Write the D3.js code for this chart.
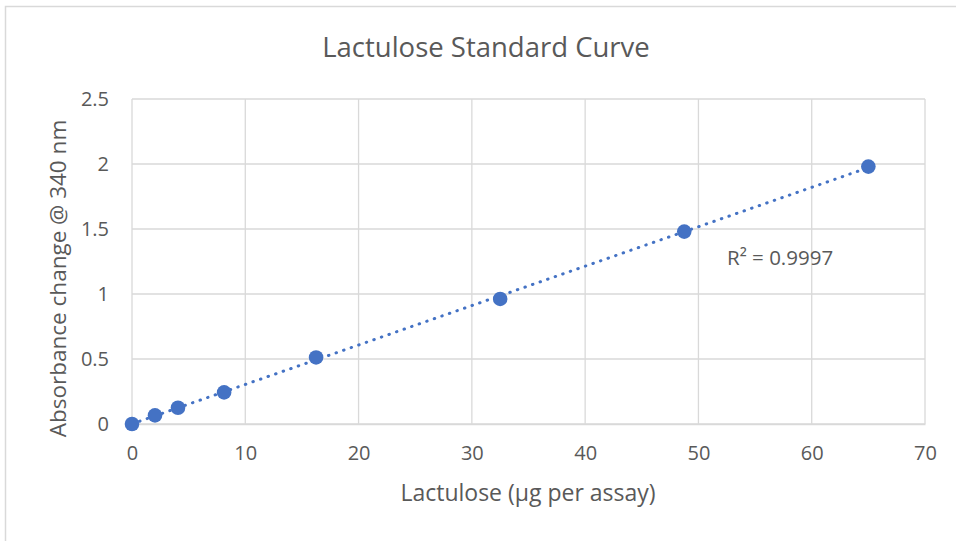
<!DOCTYPE html>
<html>
<head>
<meta charset="utf-8">
<script src="https://cdn.jsdelivr.net/npm/d3@7"></script>
<style>
  body { margin: 0; background: #fff; }
  text { font-family: "Open Sans", "Noto Sans", sans-serif; fill: #595959; }
</style>
</head>
<body>
<div id="chart"></div>
<script>
// data
var lactulose = [0, 2.03, 4.06, 8.13, 16.25, 32.5, 48.75, 65];
var absorbance = [0, 0.066, 0.125, 0.243, 0.512, 0.962, 1.48, 1.98];
var xTicks = [0, 10, 20, 30, 40, 50, 60, 70];
var yTicks = [0, 0.5, 1, 1.5, 2, 2.5];
var r2Label = "R\u00b2 = 0.9997";

var width = 956, height = 541;
var margin = {top: 99, right: 31, bottom: 117, left: 132};

var svg = d3.select("#chart")
  .append("svg")
    .attr("width", width)
    .attr("height", height);

// chart frame
svg.append("rect")
  .attr("x", 5.5).attr("y", 6.5)
  .attr("width", 1000).attr("height", 700)
  .attr("fill", "none")
  .attr("stroke", "#d9d9d9")
  .attr("stroke-width", 1.5);

var x = d3.scaleLinear()
  .domain([0, 70])
  .range([margin.left, width - margin.right]);

var y = d3.scaleLinear()
  .domain([0, 2.5])
  .range([height - margin.bottom, margin.top]);

// gridlines
svg.append("g")
  .selectAll("line")
  .data(yTicks)
  .enter()
  .append("line")
    .attr("x1", x(0)).attr("x2", x(70))
    .attr("y1", function(d) { return y(d); })
    .attr("y2", function(d) { return y(d); })
    .attr("stroke", "#d9d9d9")
    .attr("stroke-width", 1.3);

svg.append("g")
  .selectAll("line")
  .data(xTicks)
  .enter()
  .append("line")
    .attr("x1", function(d) { return x(d); })
    .attr("x2", function(d) { return x(d); })
    .attr("y1", y(0)).attr("y2", y(2.5))
    .attr("stroke", "#d9d9d9")
    .attr("stroke-width", 1.3);

// X axis labels
var xAxis = svg.append("g")
  .attr("transform", "translate(0," + y(0) + ")")
  .call(d3.axisBottom(x).tickValues(xTicks).tickSize(0).tickPadding(22).tickFormat(d3.format("d")));
xAxis.select(".domain").attr("stroke", "#d9d9d9").attr("stroke-width", 1.3);
xAxis.selectAll("text").style("font-size", "20px").style("font-family", "Open Sans").attr("fill", "#595959");

// Y axis labels
var yAxis = svg.append("g")
  .attr("transform", "translate(" + x(0) + ",0)")
  .call(d3.axisLeft(y).tickValues(yTicks).tickSize(0).tickPadding(23).tickFormat(function(d) { return String(d); }));
yAxis.select(".domain").remove();
yAxis.selectAll("text").style("font-size", "20px").style("font-family", "Open Sans").attr("fill", "#595959");

// linear trendline (least squares)
var n = lactulose.length;
var mx = d3.mean(lactulose), my = d3.mean(absorbance);
var sxy = 0, sxx = 0;
for (var i = 0; i < n; i++) {
  sxy += (lactulose[i] - mx) * (absorbance[i] - my);
  sxx += (lactulose[i] - mx) * (lactulose[i] - mx);
}
var slope = sxy / sxx, intercept = my - slope * mx;
var xMin = d3.min(lactulose), xMax = d3.max(lactulose);

svg.append("line")
  .attr("x1", x(xMin)).attr("y1", y(slope * xMin + intercept))
  .attr("x2", x(xMax)).attr("y2", y(slope * xMax + intercept))
  .attr("stroke", "#4472c4")
  .attr("stroke-width", 3)
  .attr("stroke-linecap", "round")
  .attr("stroke-dasharray", "0.5 7.5");

// points
svg.append("g")
  .selectAll("circle")
  .data(lactulose)
  .enter()
  .append("circle")
    .attr("cx", function(d) { return x(d); })
    .attr("cy", function(d, i) { return y(absorbance[i]); })
    .attr("r", 7.3)
    .attr("fill", "#4472c4");

// R squared label
svg.append("text")
  .attr("x", 727)
  .attr("y", 265)
  .style("font-size", "20.5px")
  .text(r2Label);

// title
svg.append("text")
  .attr("text-anchor", "middle")
  .attr("x", 486)
  .attr("y", 57)
  .style("font-size", "27.5px")
  .text("Lactulose Standard Curve");

// axis titles
svg.append("text")
  .attr("text-anchor", "middle")
  .attr("x", 528)
  .attr("y", 501)
  .style("font-size", "23px")
  .text("Lactulose (\u00b5g per assay)");

svg.append("text")
  .attr("text-anchor", "middle")
  .attr("transform", "translate(66,278.5) rotate(-90)")
  .style("font-size", "22.5px")
  .text("Absorbance change @ 340 nm");
</script>
</body>
</html>
